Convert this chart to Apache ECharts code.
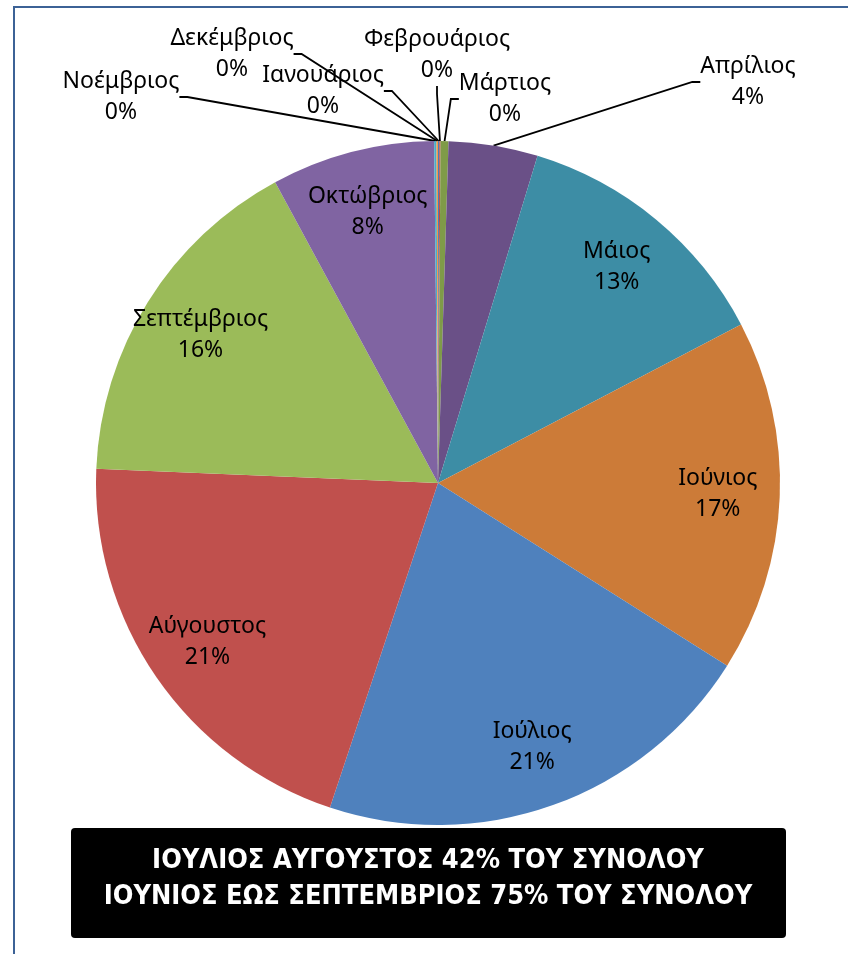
<!DOCTYPE html>
<html><head><meta charset="utf-8">
<script src="https://cdn.jsdelivr.net/npm/echarts@6/dist/echarts.min.js"></script>
<style>html,body{margin:0;padding:0;background:#fff}#c{width:848px;height:954px}</style>
</head><body><div id="c"></div>
<script>
// ---- data ----
const months = ['Ιανουάριος','Φεβρουάριος','Μάρτιος','Απρίλιος','Μάιος','Ιούνιος','Ιούλιος','Αύγουστος','Σεπτέμβριος','Οκτώβριος','Νοέμβριος','Δεκέμβριος'];
const shares = [0.06, 0.06, 0.37, 4.2, 12.6, 16.6, 21.1, 20.5, 16.4, 7.7, 0.11, 0.07];
const summaryLines = ['ΙΟΥΛΙΟΣ ΑΥΓΟΥΣΤΟΣ 42% ΤΟΥ ΣΥΝΟΛΟΥ', 'ΙΟΥΝΙΟΣ ΕΩΣ ΣΕΠΤΕΜΒΡΙΟΣ 75% ΤΟΥ ΣΥΝΟΛΟΥ'];

// ---- styles / layout ----
const sliceColors = ['#4A7DB8','#B84C49','#7F9B48','#6A5087','#3D8DA5','#CC7B38','#4F81BD','#C0504D','#9BBB59','#8064A2','#4BACC6','#F79646'];
const OUTSIDE_LIMIT = 5;
const outsideLabelAt = {
  'Νοέμβριος': [121, 97],
  'Δεκέμβριος': [232, 54],
  'Ιανουάριος': [323, 91],
  'Φεβρουάριος': [437, 55],
  'Μάρτιος': [505, 99],
  'Απρίλιος': [748, 82]
};
const FONT = "'Noto Sans', 'Open Sans', sans-serif";
const CENTER = [438, 483];
const R = 342;

const fmt = p => p.name + '\n' + Math.round(p.percent) + '%';
const labelText = { color: '#000', fontSize: 23, fontFamily: FONT, lineHeight: 31, align: 'center' };

const chart = echarts.init(document.getElementById('c'), null, { renderer: 'canvas' });
chart.setOption({
  backgroundColor: '#fff',
  animation: false,
  graphic: [
    { type: 'rect', z: 0, shape: { x: 14, y: 7, width: 900, height: 1000 }, style: { fill: 'none', stroke: '#3C6296', lineWidth: 2 } },
    { type: 'rect', z: 10, shape: { x: 71, y: 828, width: 715, height: 110, r: 4 }, style: { fill: '#000' } },
    { type: 'text', z: 11, x: 428, y: 879, style: { text: summaryLines.join('\n'), fill: '#fff', font: "bold 27px 'DejaVu Sans Condensed', 'Liberation Sans Narrow', sans-serif", align: 'center', verticalAlign: 'middle', lineHeight: 36 } }
  ],
  series: [
    {
      type: 'pie',
      center: CENTER,
      radius: R,
      startAngle: 90,
      clockwise: true,
      silent: true,
      avoidLabelOverlap: false,
      itemStyle: { borderWidth: 0 },
      label: Object.assign({ position: 'outside', formatter: fmt }, labelText),
      labelLine: { show: true, length: 10, length2: 8, lineStyle: { color: '#000', width: 1.8 } },
      labelLayout: function (params) {
        const a = outsideLabelAt[months[params.dataIndex]];
        if (!a) return {};
        return { x: a[0], y: a[1], align: 'center', verticalAlign: 'middle' };
      },
      data: months.map((m, i) => ({
        name: m, value: shares[i],
        itemStyle: { color: sliceColors[i] },
        label: { show: shares[i] < OUTSIDE_LIMIT },
        labelLine: { show: shares[i] < OUTSIDE_LIMIT }
      }))
    },
    {
      type: 'pie',
      center: CENTER,
      radius: [212, R],
      startAngle: 90,
      clockwise: true,
      silent: true,
      avoidLabelOverlap: false,
      itemStyle: { color: 'rgba(0,0,0,0)', borderWidth: 0 },
      label: Object.assign({ position: 'inside', formatter: fmt }, labelText),
      labelLine: { show: false },
      data: months.map((m, i) => ({
        name: m, value: shares[i],
        label: { show: shares[i] >= OUTSIDE_LIMIT }
      }))
    }
  ]
});
</script></body></html>
